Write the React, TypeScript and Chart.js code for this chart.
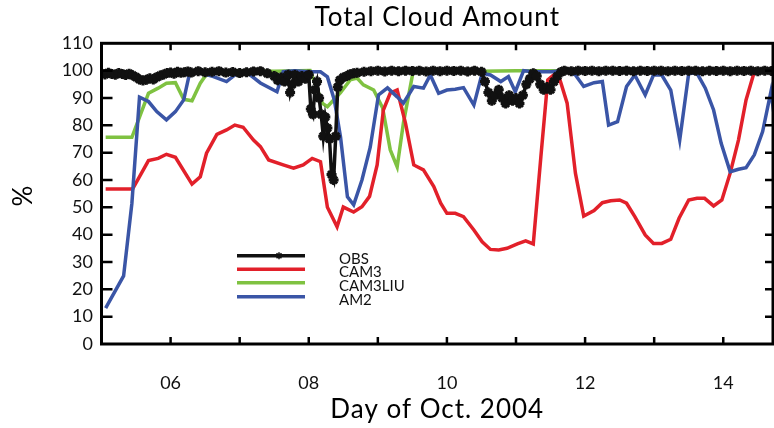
import React, { useEffect, useRef } from 'react';
import { Chart, registerables } from 'chart.js';

Chart.register(...registerables);

const TITLE = 'Total Cloud Amount';
const X_TITLE = 'Day of Oct. 2004';
const Y_TITLE = '%';
const FONT = 'Lato, "Open Sans", sans-serif';

const X_MIN = 5;
const X_MAX = 14.72;
const Y_MIN = 0;
const Y_MAX = 110;
const xTickDays = [6, 7, 8, 9, 10, 11, 12, 13, 14];
const yTickValues = [0, 10, 20, 30, 40, 50, 60, 70, 80, 90, 100, 110];

const seriesLabels = ['OBS', 'CAM3', 'CAM3LIU', 'AM2'];
const seriesColors = ['#111111', '#e2202a', '#7fc241', '#3a55a6'];

const obsDays = [
  5.0, 5.05, 5.1, 5.15, 5.2, 5.25, 5.3, 5.35, 5.4, 5.45, 5.5, 5.55, 5.6, 5.65, 5.7, 5.75, 5.8, 5.85, 5.9, 5.95,
  6.0, 6.05, 6.1, 6.15, 6.2, 6.25, 6.3, 6.4, 6.5, 6.6, 6.7, 6.8, 6.9, 7.0, 7.1, 7.2, 7.3, 7.4, 7.5, 7.55,
  7.6, 7.65, 7.7, 7.73, 7.76, 7.8, 7.85, 7.9, 7.95, 8.0, 8.03, 8.06, 8.09, 8.12, 8.15, 8.18, 8.21, 8.24, 8.27, 8.3,
  8.33, 8.36, 8.39, 8.42, 8.45, 8.5, 8.55, 8.6, 8.65, 8.7, 8.8, 8.9, 9.0, 9.1, 9.2, 9.3, 9.4, 9.5, 9.6, 9.7,
  9.8, 9.9, 10.0, 10.1, 10.2, 10.3, 10.4, 10.5, 10.55, 10.6, 10.65, 10.7, 10.75, 10.8, 10.85, 10.9, 10.95, 11.0, 11.05, 11.1,
  11.15, 11.2, 11.25, 11.3, 11.35, 11.4, 11.45, 11.5, 11.55, 11.6, 11.65, 11.7, 11.8, 11.9, 12.0, 12.1, 12.2, 12.3, 12.4, 12.5,
  12.6, 12.7, 12.8, 12.9, 13.0, 13.1, 13.2, 13.3, 13.4, 13.5, 13.6, 13.7, 13.8, 13.9, 14.0, 14.1, 14.2, 14.3, 14.4, 14.5,
  14.6, 14.7, 14.75,
];
const obsValues = [
  99.0, 98.6, 99.2, 98.8, 98.5, 99.1, 98.8, 98.4, 98.9, 98.3, 97.6, 96.8, 96.4, 96.7, 97.2, 96.8, 97.6, 98.2, 98.6, 99.1,
  99.3, 98.9, 99.6, 99.2, 99.4, 99.7, 99.3, 99.8, 99.4, 99.6, 99.8, 99.3, 99.5, 99.1, 99.4, 99.7, 99.8, 99.0, 98.0, 96.5,
  97.5, 96.0, 98.5, 92.0, 95.0, 98.5, 96.0, 98.0, 97.0, 98.5, 86.0, 84.0, 93.0, 96.0, 90.0, 84.0, 76.0, 83.0, 79.0, 75.0,
  62.0, 60.0, 76.0, 94.0, 96.5, 97.5, 98.0, 98.7, 99.0, 99.2, 99.6, 99.8, 100, 99.7, 100, 99.8, 100, 99.9, 100, 99.7,
  100, 99.8, 100, 99.9, 100, 99.7, 100, 99.6, 96.0, 92.0, 89.0, 91.0, 93.0, 90.0, 88.0, 91.0, 89.0, 90.0, 88.0, 91.0,
  95.0, 97.0, 99.0, 98.0, 95.0, 93.0, 94.0, 93.0, 96.0, 98.0, 99.5, 100, 99.8, 100, 99.9, 100, 99.8, 100, 100, 99.9,
  100, 99.8, 100, 99.9, 100, 100, 99.8, 100, 99.9, 100, 100, 99.8, 100, 99.9, 100, 99.8, 100, 99.9, 100, 99.8,
  100, 99.9, 100,
];

const cam3Days = [
  5.06, 5.45, 5.68, 5.82, 5.94, 6.07, 6.31, 6.43, 6.52, 6.67, 6.81, 6.93, 7.05, 7.2, 7.3, 7.42, 7.63, 7.78, 7.92, 8.05,
  8.17, 8.27, 8.41, 8.5, 8.65, 8.77, 8.88, 8.99, 9.08, 9.18, 9.28, 9.4, 9.52, 9.66, 9.81, 9.91, 10.0, 10.12, 10.24, 10.39,
  10.51, 10.63, 10.75, 10.87, 11.02, 11.14, 11.25, 11.36, 11.46, 11.6, 11.74, 11.86, 11.98, 12.13, 12.25, 12.37, 12.5, 12.6, 12.72, 12.87,
  12.99, 13.11, 13.24, 13.36, 13.5, 13.62, 13.73, 13.86, 13.98, 14.1, 14.22, 14.33, 14.45, 14.6, 14.75,
];
const cam3Values = [
  56.7, 56.7, 67.1, 67.9, 69.4, 68.3, 58.5, 61.2, 69.8, 76.7, 78.3, 80.1, 79.3, 74.6, 72.2, 67.3, 65.5, 64.3, 65.5, 67.9,
  66.7, 50.0, 42.9, 50.1, 48.3, 50.2, 54.0, 65.5, 85.6, 91.8, 92.9, 80.8, 65.5, 63.7, 57.6, 51.5, 47.8, 47.8, 46.6, 41.7,
  37.4, 34.6, 34.4, 35.0, 36.6, 37.7, 36.6, 68.5, 96.6, 99.6, 88.1, 62.5, 46.8, 48.8, 51.7, 52.4, 52.7, 51.5, 46.6, 39.9,
  36.8, 36.8, 38.3, 46.0, 52.7, 53.3, 53.3, 50.5, 52.7, 62.5, 74.6, 89.3, 99.6, 100, 100,
];

const cam3liuDays = [
  5.06, 5.44, 5.68, 5.82, 5.94, 6.07, 6.19, 6.31, 6.43, 6.55, 7.0, 7.5, 8.02, 8.2, 8.27, 8.46, 8.6, 8.7, 8.79, 8.94,
  9.07, 9.18, 9.28, 9.37, 9.51, 10.0, 10.5, 11.0, 11.5, 12.0, 13.0, 14.0, 14.75,
];
const cam3liuValues = [
  75.6, 75.6, 91.7, 93.6, 95.4, 95.6, 89.5, 89.0, 95.4, 99.8, 100, 99.8, 100, 88.0, 86.8, 92.0, 96.6, 97.3, 94.8, 92.9,
  86.3, 71.0, 64.8, 80.8, 99.5, 100, 99.8, 100, 100, 100, 100, 100, 100,
];

const am2Days = [
  5.06, 5.32, 5.44, 5.55, 5.68, 5.8, 5.94, 6.07, 6.19, 6.28, 6.45, 6.62, 6.81, 6.96, 7.1, 7.3, 7.54, 7.63, 7.8, 8.0,
  8.17, 8.27, 8.37, 8.46, 8.56, 8.65, 8.77, 8.89, 9.01, 9.14, 9.28, 9.37, 9.52, 9.66, 9.76, 9.88, 10.0, 10.12, 10.24, 10.39,
  10.51, 10.63, 10.78, 10.89, 10.99, 11.11, 11.25, 11.5, 11.74, 11.86, 11.98, 12.13, 12.25, 12.34, 12.47, 12.6, 12.72, 12.87, 12.99, 13.11,
  13.24, 13.37, 13.5, 13.62, 13.74, 13.86, 13.97, 14.1, 14.22, 14.33, 14.45, 14.57, 14.69, 14.8,
];
const am2Values = [
  13.1, 24.9, 51.5, 90.3, 88.7, 85.0, 82.0, 85.0, 89.3, 99.6, 99.0, 97.8, 96.0, 99.0, 99.5, 95.5, 92.3, 99.6, 100, 99.6,
  99.6, 97.7, 89.3, 75.7, 53.8, 50.9, 60.0, 72.0, 91.1, 93.7, 90.4, 88.1, 94.2, 93.6, 98.4, 91.7, 92.9, 93.2, 93.8, 87.4,
  99.0, 98.4, 96.0, 97.8, 92.3, 100, 99.6, 99.6, 100, 98.4, 94.2, 95.6, 96.0, 80.1, 81.3, 94.2, 98.4, 91.1, 98.4, 98.4,
  92.9, 74.6, 99.0, 99.0, 93.6, 85.6, 73.4, 63.0, 63.9, 64.5, 69.2, 77.7, 92.3, 72.0,
];

function toPoints(xs: number[], ys: number[]) {
  return xs.map((x, i) => ({ x, y: ys[i] }));
}

function drawStar(ctx: CanvasRenderingContext2D, x: number, y: number, r: number) {
  ctx.beginPath();
  ctx.moveTo(x - r, y); ctx.lineTo(x + r, y);
  ctx.moveTo(x, y - r); ctx.lineTo(x, y + r);
  const d = r * Math.SQRT1_2;
  ctx.moveTo(x - d, y - d); ctx.lineTo(x + d, y + d);
  ctx.moveTo(x - d, y + d); ctx.lineTo(x + d, y - d);
  ctx.stroke();
}

const decorPlugin = {
  id: 'decor',
  afterDraw(chart: any) {
    const { ctx, chartArea: a, scales } = chart;
    const xs = scales.x;
    const ys = scales.y;
    ctx.save();
    ctx.strokeStyle = '#000';
    ctx.lineWidth = 2.5;
    ctx.beginPath();
    for (const d of xTickDays) {
      const px = xs.getPixelForValue(d);
      ctx.moveTo(px, a.bottom); ctx.lineTo(px, a.bottom - 7);
      ctx.moveTo(px, a.top); ctx.lineTo(px, a.top + 7);
    }
    for (const v of yTickValues) {
      if (v === Y_MIN || v === Y_MAX) continue;
      const py = ys.getPixelForValue(v);
      ctx.moveTo(a.left, py); ctx.lineTo(a.left + 11, py);
      ctx.moveTo(a.right, py); ctx.lineTo(a.right - 8, py);
    }
    ctx.stroke();
    ctx.lineWidth = 3;
    ctx.strokeRect(a.left, a.top, a.right - a.left, a.bottom - a.top);

    // titles
    ctx.fillStyle = '#000';
    ctx.textAlign = 'center';
    ctx.textBaseline = 'middle';
    ctx.font = `26px ${FONT}`;
    (ctx as any).letterSpacing = '1px';
    const cx = (a.left + a.right) / 2;
    ctx.fillText(TITLE, cx, a.top - 26);
    ctx.fillText(X_TITLE, cx, a.bottom + 66);
    ctx.save();
    ctx.translate(a.left - 78, (a.top + a.bottom) / 2 + 2);
    ctx.rotate(-Math.PI / 2);
    ctx.fillText(Y_TITLE, 0, 0);
    ctx.restore();
    (ctx as any).letterSpacing = '0px';

    // legend inside plot
    const lx0 = a.left + 135.5;
    const lx1 = a.left + 203.5;
    const tx = a.left + 237.5;
    const rowY = [a.top + 212.4, a.top + 226, a.top + 239.4, a.top + 253.4];
    ctx.textAlign = 'left';
    ctx.font = `15px ${FONT}`;
    chart.data.datasets.forEach((ds: any, i: number) => {
      const y = rowY[i];
      ctx.strokeStyle = ds.borderColor;
      ctx.lineWidth = 3.5;
      ctx.beginPath();
      ctx.moveTo(lx0, y); ctx.lineTo(lx1, y);
      ctx.stroke();
      if (i === 0) {
        ctx.lineWidth = 1.5;
        drawStar(ctx, a.left + 177.5, y, 3.5);
      }
      ctx.fillStyle = '#111';
      ctx.fillText(ds.label, tx, y + 3);
    });
    ctx.restore();
  },
};

export default function App() {
  const canvasRef = useRef<HTMLCanvasElement | null>(null);

  useEffect(() => {
    const canvas = canvasRef.current;
    if (!canvas) return;
    const tickFont = { family: FONT, size: 18 };
    const chart = new Chart(canvas, {
      type: 'line',
      data: {
        datasets: [
          {
            label: seriesLabels[0],
            data: toPoints(obsDays, obsValues),
            borderColor: seriesColors[0],
            backgroundColor: seriesColors[0],
            borderWidth: 3.5,
            pointStyle: 'star',
            pointRadius: 5,
            pointBorderWidth: 3,
            pointBorderColor: seriesColors[0],
            order: 0,
          },
          {
            label: seriesLabels[1],
            data: toPoints(cam3Days, cam3Values),
            borderColor: seriesColors[1],
            borderWidth: 3.5,
            pointRadius: 0,
            order: 2,
          },
          {
            label: seriesLabels[2],
            data: toPoints(cam3liuDays, cam3liuValues),
            borderColor: seriesColors[2],
            borderWidth: 3.5,
            pointRadius: 0,
            order: 3,
          },
          {
            label: seriesLabels[3],
            data: toPoints(am2Days, am2Values),
            borderColor: seriesColors[3],
            borderWidth: 3.5,
            pointRadius: 0,
            order: 1,
          },
        ],
      },
      options: {
        animation: false,
        responsive: false,
        maintainAspectRatio: false,
        layout: { autoPadding: false, padding: { top: 43.3, right: 1, left: 0, bottom: 0 } },
        plugins: {
          legend: { display: false },
          title: { display: false },
          tooltip: { enabled: false },
        },
        scales: {
          x: {
            type: 'linear',
            min: X_MIN,
            max: X_MAX,
            afterBuildTicks: (s: any) => {
              s.ticks = xTickDays.map((v) => ({ value: v }));
            },
            afterFit: (s: any) => {
              s.height = 84;
              s.paddingLeft = 0;
              s.paddingRight = 0;
            },
            grid: { display: false, drawTicks: false },
            border: { display: false },
            ticks: {
              autoSkip: false,
              maxRotation: 0,
              padding: 28,
              color: '#111',
              font: tickFont,
              callback: (v: any) => {
                const n = Number(v);
                return n % 2 === 0 ? String(n).padStart(2, '0') : '';
              },
            },
          },
          y: {
            type: 'linear',
            min: Y_MIN,
            max: Y_MAX,
            afterFit: (s: any) => {
              s.width = 101.5;
            },
            grid: { display: false, drawTicks: false },
            border: { display: false },
            ticks: {
              stepSize: 10,
              padding: 8.5,
              color: '#111',
              font: tickFont,
            },
          },
        },
      },
      plugins: [decorPlugin],
    } as any);
    return () => chart.destroy();
  }, []);

  return (
    <div style={{ position: 'absolute', left: 0, top: 0, width: 774, height: 428, background: '#fff' }}>
      <canvas ref={canvasRef} width={774} height={428} style={{ display: 'block' }} />
    </div>
  );
}
